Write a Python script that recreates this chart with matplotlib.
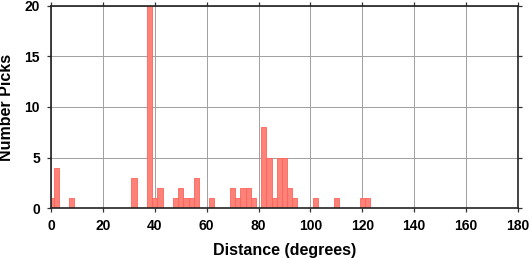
import matplotlib
matplotlib.use("Agg")
import matplotlib.pyplot as plt

# Histogram bin centers (degrees) and counts
bin_centers = [0, 2, 8, 32, 38, 40, 42, 48, 50, 52, 54, 56, 62, 70, 72, 74, 76, 78,
               82, 84, 86, 88, 90, 92, 94, 102, 110, 120, 122]
counts = [1, 4, 1, 3, 20, 1, 2, 1, 2, 1, 1, 3, 1, 2, 1, 2, 2, 1,
          8, 5, 1, 5, 5, 2, 1, 1, 1, 1, 1]
bin_width = 2
x_ticks = [0, 20, 40, 60, 80, 100, 120, 140, 160, 180]
y_ticks = [0, 5, 10, 15, 20]

plt.rcParams['font.family'] = ['Liberation Sans', 'DejaVu Sans']
plt.rcParams['font.weight'] = 'bold'

fig = plt.figure(figsize=(5.3, 2.58), dpi=100)
ax = fig.add_axes([51/530, 1-208/258, (518-51)/530, (208-6)/258])

ax.bar(bin_centers, counts, width=bin_width, align='center',
       facecolor='#ff8279', edgecolor='#ff6359', linewidth=0.6, zorder=2)

ax.set_xlim(0, 180)
ax.set_ylim(0, 20)
ax.set_xticks(x_ticks)
ax.set_yticks(y_ticks)
ax.grid(True, color='#a0a0a0', linewidth=0.7, zorder=0)
ax.set_axisbelow(True)

for s in ax.spines.values():
    s.set_linewidth(1.2)
    s.set_color('#222222')
    s.set_zorder(3)

ax.tick_params(axis='both', direction='out', length=3, width=0.9, color='#333333',
               labelsize=10, top=True, right=True, pad=5)
ax.tick_params(axis='x', labeltop=False)
ax.tick_params(axis='y', labelright=False)
for lab in ax.get_xticklabels() + ax.get_yticklabels():
    lab.set_fontweight('bold')

ax.set_xlabel('Distance (degrees)', fontsize=11.5, fontweight='bold', labelpad=7)
ax.set_ylabel('Number Picks', fontsize=11.5, fontweight='bold')
ax.yaxis.set_label_coords(-0.080, 0.5)

fig.savefig('out.png', dpi=100)
